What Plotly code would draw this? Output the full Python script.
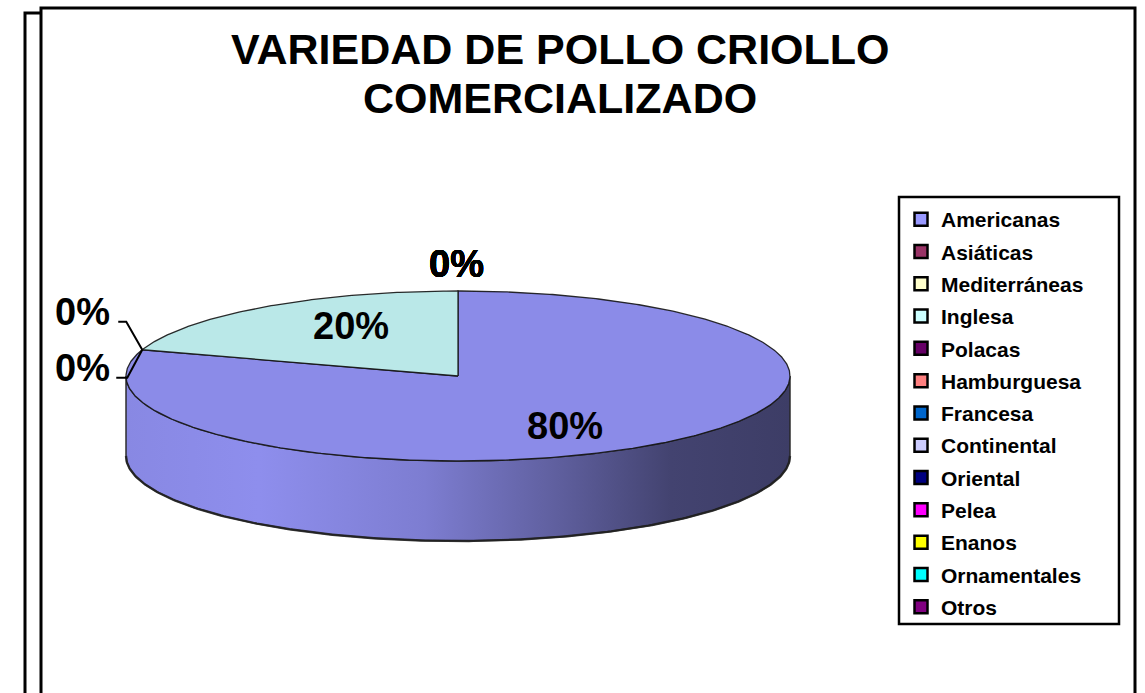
import numpy as np
import plotly.graph_objects as go

# ---------------- data ----------------
categories = ["Americanas", "Asiáticas", "Mediterráneas", "Inglesa", "Polacas",
              "Hamburguesa", "Francesa", "Continental", "Oriental", "Pelea",
              "Enanos", "Ornamentales", "Otros"]
values = [80, 0, 0, 20, 0, 0, 0, 0, 0, 0, 0, 0, 0]
colors = ["#9999FF", "#993366", "#FFFFCC", "#CCFFFF", "#660066", "#FF8080",
          "#0066CC", "#CCCCFF", "#000080", "#FF00FF", "#FFFF00", "#00FFFF",
          "#800080"]
title_lines = ["VARIEDAD DE POLLO CRIOLLO", "COMERCIALIZADO"]

# ---------------- geometry / style ----------------
W, H = 1145, 693
CX, CY = 458, 376        # centre of the top face
RX, RY = 332, 85         # ellipse radii of the top face
DEPTH = 80               # thickness of the pie
FONT = "Liberation Sans, Arial, sans-serif"


def hex_rgb(h):
    h = h.lstrip("#")
    return [int(h[i:i + 2], 16) for i in (0, 2, 4)]


def shade(h, f):
    r, g, b = hex_rgb(h)
    return "rgb({},{},{})".format(*[max(0, min(255, int(round(c * f)))) for c in (r, g, b)])


def ell(theta, r=1.0, dz=0.0):
    t = np.radians(theta)
    return CX + r * RX * np.sin(t), CY - r * RY * np.cos(t) + dz


total = float(sum(values))
angles = []
acc = 0.0
for v in values:
    a0 = acc / total * 360.0
    acc += v
    a1 = acc / total * 360.0
    angles.append((a0, a1))

fig = go.Figure()

# ---- side walls (visible front part: 90..270 deg) ----
for name, v, c, (a0, a1) in zip(categories, values, colors, angles):
    if v <= 0:
        continue
    lo, hi = max(a0, 90.0), min(a1, 270.0)
    if hi <= lo:
        continue
    th = np.linspace(lo, hi, 240)
    xt, yt = ell(th)
    xb, yb = ell(th[::-1], dz=DEPTH)
    xs = np.concatenate([xt, xb, xt[:1]])
    ys = np.concatenate([yt, yb, yt[:1]])
    fig.add_trace(go.Scatter(
        x=xs, y=ys, mode="lines", fill="toself",
        line=dict(color="rgba(40,40,40,0.9)", width=1.6),
        fillgradient=dict(type="horizontal", start=CX - RX, stop=CX + RX,
                          colorscale=[[0.0, shade(c, 0.89)], [0.2, shade(c, 0.93)],
                                      [0.45, shade(c, 0.82)], [0.65, shade(c, 0.62)],
                                      [0.82, shade(c, 0.44)], [1.0, shade(c, 0.40)]]),
        hoverinfo="skip", showlegend=False))
    # darker bottom rim
    fig.add_trace(go.Scatter(
        x=xb, y=yb, mode="lines", line=dict(color="rgba(30,30,30,0.85)", width=2.4),
        hoverinfo="skip", showlegend=False))

# ---- top faces ----
for name, v, c, (a0, a1) in zip(categories, values, colors, angles):
    if v <= 0:
        continue
    th = np.linspace(a0, a1, max(40, int((a1 - a0) * 2)))
    xa, ya = ell(th)
    xs = np.concatenate([[CX], xa, [CX]])
    ys = np.concatenate([[CY], ya, [CY]])
    fig.add_trace(go.Scatter(
        x=xs, y=ys, mode="lines", fill="toself", fillcolor=shade(c, 0.91),
        line=dict(color="rgba(20,20,20,0.9)", width=1.3),
        name=name, hoverinfo="skip", showlegend=False))

# ---- data labels ----
label_font = dict(family=FONT, size=38, color="black", weight="bold")
zero_groups = {}
for name, v, (a0, a1) in zip(categories, values, angles):
    pct = "{:.0f}%".format(v / total * 100)
    if v > 0:
        mid = np.radians((a0 + a1) / 2)
        lx = CX + 0.55 * RX * np.sin(mid)
        ly = CY - 0.72 * RY * np.cos(mid)
        fig.add_annotation(x=lx, y=ly, text=pct, showarrow=False, font=label_font,
                           xanchor="center", yanchor="middle")
    else:
        key = round(a0, 3) % 360
        zero_groups.setdefault(key, []).append(pct)

for key, labs in zero_groups.items():
    ex, ey = ell(key)
    if abs(key) < 1e-6 or abs(key - 360) < 1e-6:
        # labels stacked exactly on top of each other above the top point
        for pct in labs:
            fig.add_annotation(x=ex - 2, y=ey - 27, text=pct, showarrow=False,
                               font=label_font, xanchor="center", yanchor="middle")
    else:
        for i, pct in enumerate(labs):
            lx = ex - 60
            ly = ey - 38 + i * 56
            fig.add_annotation(x=lx, y=ly, text=pct, showarrow=False,
                               font=label_font, xanchor="center", yanchor="middle")
            ax0 = lx + 36 + (0 if i == 0 else -2)
            fig.add_trace(go.Scatter(
                x=[ax0, ax0 + 8 + (3 if i else 0), ex], y=[ly + 10, ly + 10, ey],
                mode="lines", line=dict(color="black", width=2),
                hoverinfo="skip", showlegend=False))

# ---- title ----
title_font = dict(family=FONT, size=43, color="black", weight="bold")
for i, line in enumerate(title_lines):
    fig.add_annotation(x=560, y=48.5 + 49 * i, text=line, showarrow=False,
                       font=title_font, xanchor="center", yanchor="middle")

# ---- legend entries ----
for name, c in zip(categories, colors):
    fig.add_trace(go.Scatter(
        x=[None], y=[None], mode="markers", name=name, legendgroup=name,
        marker=dict(symbol="square", size=13, color=c,
                    line=dict(color="black", width=2.5)),
        showlegend=True))

# ---- frames ----
fig.add_shape(type="rect", x0=25, y0=13, x1=1120, y1=740, layer="below",
              line=dict(color="black", width=3), fillcolor="white")
fig.add_shape(type="rect", x0=41, y0=8, x1=1135, y1=740, layer="below",
              line=dict(color="black", width=3), fillcolor="white")
# legend box
fig.add_shape(type="rect", x0=899, y0=197, x1=1119, y1=624, layer="below",
              line=dict(color="black", width=2.5), fillcolor="white")

fig.update_layout(
    width=W, height=H, autosize=False,
    margin=dict(l=0, r=0, t=0, b=0),
    paper_bgcolor="white", plot_bgcolor="white",
    xaxis=dict(range=[0, W], visible=False, fixedrange=True),
    yaxis=dict(range=[H, 0], visible=False, fixedrange=True),
    legend=dict(x=901 / W, y=1 - 199 / H, xanchor="left", yanchor="top",
                borderwidth=0, bgcolor="rgba(0,0,0,0)",
                traceorder="grouped", tracegroupgap=2.0,
                font=dict(family=FONT, size=21, color="black", weight="bold")),
    showlegend=True,
)

fig.write_html("out.html", config={"displayModeBar": False},
               post_script="document.body.style.margin='0px';")
